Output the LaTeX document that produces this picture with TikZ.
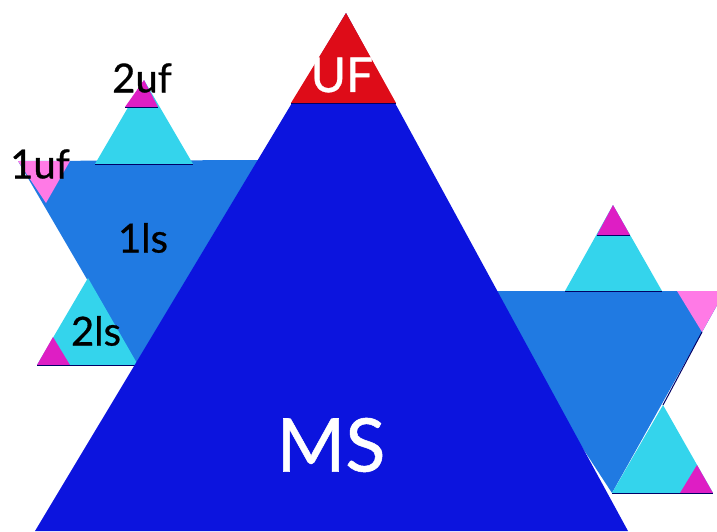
\documentclass[tikz,border=0pt]{standalone}
\usepackage{fontspec}
\setmainfont{Lato}
\newfontfamily\labelfont[FakeBold=0.7]{Lato}
\definecolor{msblue}{RGB}{12,20,222}
\definecolor{lsblue}{RGB}{32,122,226}
\definecolor{tipcyan}{RGB}{52,212,236}
\definecolor{tipmagenta}{RGB}{222,30,196}
\definecolor{cornerpink}{RGB}{255,122,230}
\definecolor{ufred}{RGB}{222,12,24}
\begin{document}
\begin{tikzpicture}[
  x=1pt, y=-1pt,
  every node/.style={inner sep=0pt,font=\labelfont\fontsize{40}{40}\selectfont},
  lsfill/.style={fill=lsblue},
  tipfill/.style={fill=tipcyan},
  tiptop/.style={fill=tipmagenta},
  cornerfill/.style={fill=cornerpink},
  baseline edge/.style={draw=black!60!blue,line width=1pt}
]
  \clip (0,0) rectangle (717,531);

  % left star
  \fill[lsfill] (18,161) -- (262,160) -- (137,365) -- cycle;
  \fill[cornerfill] (18,161) -- (70,161) -- (46,203) -- cycle;
  \fill[tipfill] (95,164) -- (193,164) -- (144,80) -- cycle;
  \fill[tiptop] (125,107) -- (158,107) -- (144,80) -- cycle;
  \draw[baseline edge] (95,164) -- (193,164) (125,107) -- (158,107);
  \fill[tipfill] (37,365) -- (138,365) -- (88,278) -- cycle;
  \fill[tiptop] (37,365) -- (70,365) -- (53,337) -- cycle;
  \draw[baseline edge] (37,365) -- (138,365);

  % right star
  \fill[lsfill] (480,291) -- (725,291) -- (612,493) -- cycle;
  \fill[cornerfill] (677,291) -- (725,291) -- (702,332) -- cycle;
  \draw[baseline edge] (702,332) -- (663,405);
  \fill[tipfill] (565,291) -- (662,291) -- (613,205) -- cycle;
  \fill[tiptop] (597,235) -- (630,235) -- (613,205) -- cycle;
  \draw[baseline edge] (565,291) -- (662,291) (597,235) -- (630,235);
  \fill[tipfill] (612,493) -- (713,493) -- (663,405) -- cycle;
  \fill[tiptop] (680,493) -- (713,493) -- (697,465) -- cycle;
  \draw[baseline edge] (612,493) -- (713,493);

  % main triangle
  \fill[msblue] (346,13) -- (35,531) -- (628,531) -- cycle;
  \fill[ufred] (346,13) -- (291,103) -- (396,103) -- cycle;
  \draw[baseline edge] (291,103) -- (396,103);

  \node (uf) at (342,75) [text=white,font=\labelfont\fontsize{48}{48}\selectfont] {UF};
  \node (ms) at (331,445) [text=white,font=\labelfont\fontsize{74}{74}\selectfont] {MS};
  \node (uf2) at (142,78) {2uf};
  \node (uf1) at (40,164) {1uf};
  \node (ls1) at (143,238) {1ls};
  \node (ls2) at (96,331) {2ls};
\end{tikzpicture}
\end{document}
